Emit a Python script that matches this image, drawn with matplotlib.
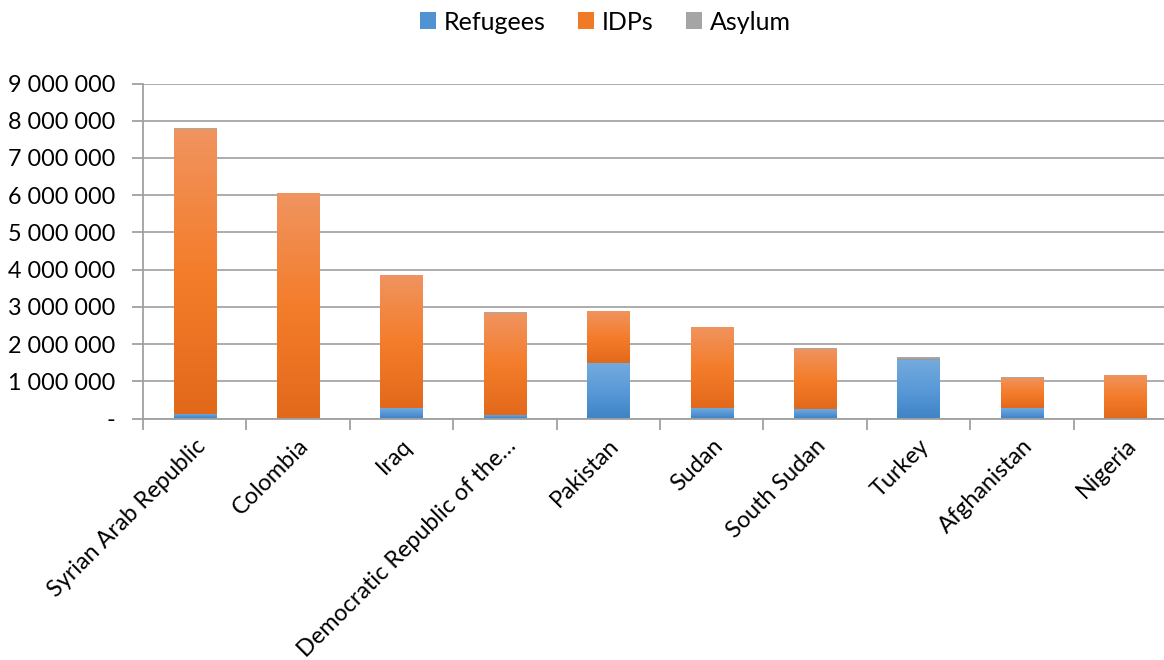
import numpy as np
import matplotlib
matplotlib.use('Agg')
import matplotlib.pyplot as plt
from matplotlib.colors import LinearSegmentedColormap
from matplotlib.patches import Patch
from matplotlib.ticker import FuncFormatter, MultipleLocator

plt.rcParams['font.family'] = ['Lato', 'DejaVu Sans']

categories = ['Syrian Arab Republic', 'Colombia', 'Iraq', 'Democratic Republic of the\u2026',
              'Pakistan', 'Sudan', 'South Sudan', 'Turkey', 'Afghanistan', 'Nigeria']
refugees = [130000, 5000, 270000, 100000, 1500000, 270000, 250000, 1570000, 270000, 5000]
idps = [7660000, 6040000, 3590000, 2740000, 1390000, 2190000, 1620000, 0, 830000, 1170000]
asylum = [10000, 10000, 5000, 20000, 5000, 5000, 20000, 90000, 5000, 5000]

# top -> bottom gradients, Excel style
grads = {
    'Refugees': ('#75abdd', '#5a9ad8', '#3f84c6'),
    'IDPs': ('#f09460', '#f47d2b', '#e2691a'),
    'Asylum': ('#b4b4b4', '#a5a5a5', '#959595'),
}
legend_colors = {'Refugees': '#4f93d3', 'IDPs': '#f07a26', 'Asylum': '#a5a5a5'}

fig = plt.figure(figsize=(11.64, 6.6), dpi=100)
ax = fig.add_axes([143 / 1164, 1 - 418.5 / 660, 1034 / 1164, 335 / 660])

x = np.arange(len(categories))
width = 0.41
bottom = np.zeros(len(categories))
grad_img = np.linspace(0, 1, 256).reshape(-1, 1)

for name, vals in [('Refugees', refugees), ('IDPs', idps), ('Asylum', asylum)]:
    bars = ax.bar(x, vals, width, bottom=bottom, color=legend_colors[name], zorder=2)
    cmap = LinearSegmentedColormap.from_list(name, list(grads[name])[::-1])
    for b in bars:
        if b.get_height() <= 0:
            continue
        x0, y0 = b.get_x(), b.get_y()
        im = ax.imshow(grad_img, cmap=cmap, aspect='auto', origin='lower',
                       extent=[x0, x0 + b.get_width(), y0, y0 + b.get_height()], zorder=3)
        im.set_clip_path(b)
    bottom += np.array(vals)

ax.set_xlim(-0.5, len(categories) - 0.5)
ax.set_ylim(0, 9000000)
ax.yaxis.set_major_locator(MultipleLocator(1000000))
ax.yaxis.set_major_formatter(FuncFormatter(
    lambda v, p: '-' if v == 0 else f'{int(v):,}'.replace(',', ' ')))
ax.grid(axis='y', color='#a6a6a6', linewidth=1.3, zorder=0)
ax.set_axisbelow(True)

for s in ['top', 'right']:
    ax.spines[s].set_visible(False)
for s in ['left', 'bottom']:
    ax.spines[s].set_color('#a0a0a0')
    ax.spines[s].set_linewidth(1.3)

ax.set_xticks(x)
ax.set_xticklabels(categories, rotation=45, ha='right', rotation_mode='anchor')
ax.set_xticks(np.arange(len(categories) + 1) - 0.5, minor=True)
ax.tick_params(axis='x', which='major', length=0, pad=12, labelsize=16.8)
ax.tick_params(axis='x', which='minor', length=8, width=1.3, color='#a0a0a0')
ax.tick_params(axis='y', length=8, width=1.3, color='#a0a0a0', labelsize=16.8, pad=12)

handles = [Patch(facecolor=legend_colors[n], label=n) for n in ['Refugees', 'IDPs', 'Asylum']]
fig.legend(handles=handles, loc='center', bbox_to_anchor=(605 / 1164, 1 - 22 / 660), ncol=3,
           frameon=False, fontsize=18, handlelength=0.65, handleheight=0.65,
           handletextpad=0.3, columnspacing=1.3)

fig.savefig('out.png', dpi=100)
